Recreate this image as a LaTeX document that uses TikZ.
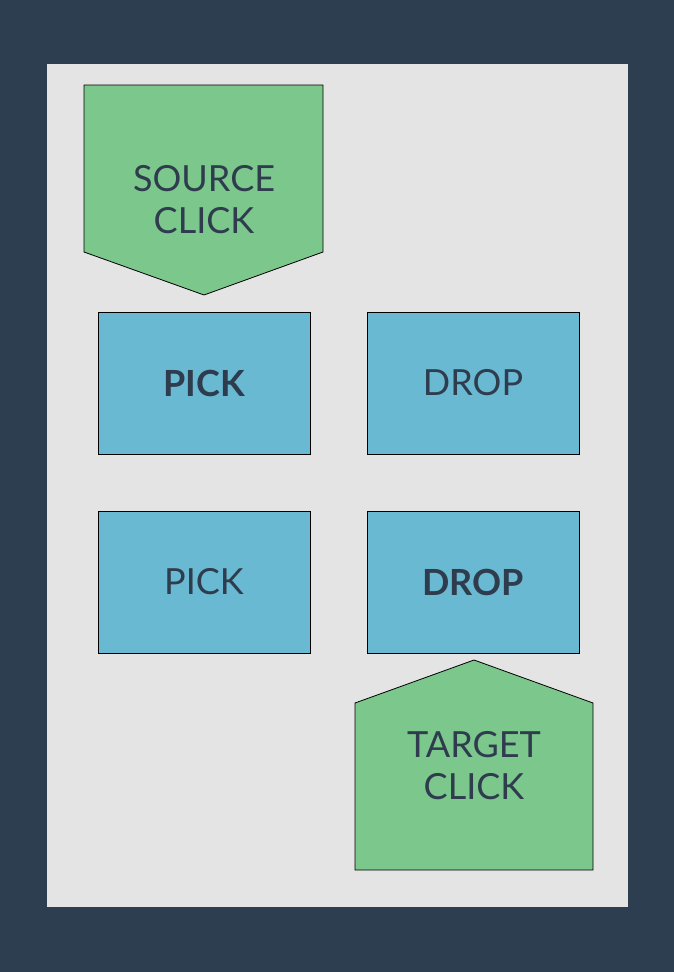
\documentclass[tikz,border=0pt]{standalone}
\usepackage{fontspec}
\setmainfont{Lato}
\definecolor{navy}{HTML}{2D3E50}
\definecolor{paper}{HTML}{E4E4E4}
\definecolor{grn}{HTML}{7BC78C}
\definecolor{blu}{HTML}{69B9D2}
\definecolor{txt}{HTML}{2E3C4E}
\tikzset{
  shapebox/.style={draw=black, line width=0.8pt},
  lbl/.style={text=txt, font=\fontsize{36}{42}\selectfont, align=center, inner sep=0pt},
  boldlbl/.style={lbl, font=\fontsize{36}{42}\selectfont\bfseries},
}
\begin{document}
\begin{tikzpicture}[x=1pt,y=-1pt]
\useasboundingbox (0,0) rectangle (674,972);
\fill[navy] (0,0) rectangle (674,972);
\fill[paper] (47,64) rectangle (628,907);
% source click
\filldraw[shapebox, fill=grn] (84,85) -- (323,85) -- (323,252) -- (204,295) -- (84,252) -- cycle;
\node[lbl] (src) at (204,200) {SOURCE\\CLICK};
% boxes
\filldraw[shapebox, fill=blu] (98,312) rectangle (310,454);
\node[boldlbl] (pick1) at (204,383) {PICK};
\filldraw[shapebox, fill=blu] (367,312) rectangle (579,454);
\node[lbl] (drop1) at (473,383) {DROP};
\filldraw[shapebox, fill=blu] (98,511) rectangle (310,653);
\node[lbl] (pick2) at (204,582) {PICK};
\filldraw[shapebox, fill=blu] (367,511) rectangle (579,653);
\node[boldlbl] (drop2) at (473,582) {DROP};
% target click
\filldraw[shapebox, fill=grn] (474,660) -- (593,703) -- (593,870) -- (355,870) -- (355,703) -- cycle;
\node[lbl] (tgt) at (474,766) {TARGET\\CLICK};
\end{tikzpicture}
\end{document}
